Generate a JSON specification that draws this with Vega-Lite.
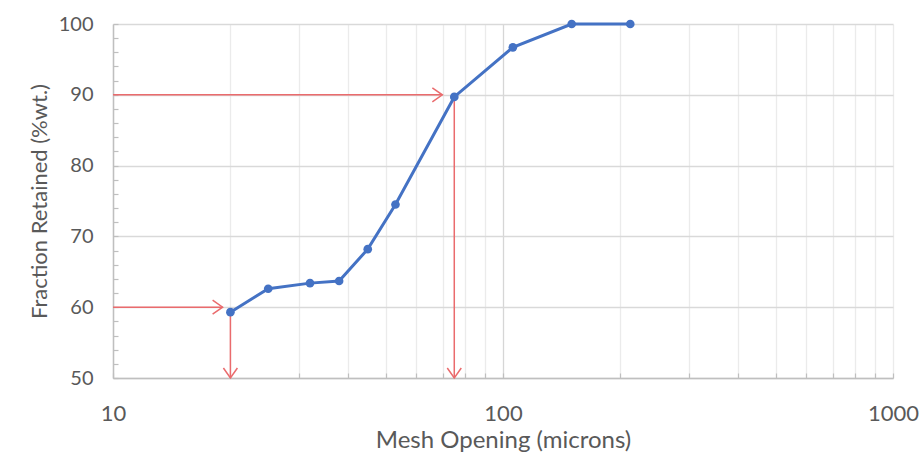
{
  "$schema": "https://vega.github.io/schema/vega-lite/v6.json",
  "width": 780,
  "height": 354,
  "autosize": {"type": "none"},
  "padding": {"left": 113, "top": 24, "right": 30, "bottom": 77},
  "background": "white",
  "config": {
    "view": {"stroke": null},
    "font": "Lato",
    "axis": {
      "domainColor": "#bfbfbf",
      "domainWidth": 1.5,
      "tickColor": "#bfbfbf",
      "tickWidth": 1.2,
      "tickSize": -5,
      "labelColor": "#595959",
      "titleColor": "#595959",
      "titleFontWeight": "normal",
      "labelFont": "Lato",
      "titleFont": "Lato",
      "labelFlush": false,
      "labelOverlap": false
    }
  },
  "datasets": {
    "sieve": [
      {"mesh": 20, "retained": 59.3},
      {"mesh": 25, "retained": 62.6},
      {"mesh": 32, "retained": 63.4},
      {"mesh": 38, "retained": 63.7},
      {"mesh": 45, "retained": 68.2},
      {"mesh": 53, "retained": 74.5},
      {"mesh": 75, "retained": 89.7},
      {"mesh": 106, "retained": 96.7},
      {"mesh": 150, "retained": 100},
      {"mesh": 212, "retained": 100}
    ],
    "guides": [
      {"mesh": 10, "mesh2": 19.1, "retained": 60, "retained2": 60},
      {"mesh": 20, "mesh2": 20, "retained": 59.3, "retained2": 50},
      {"mesh": 10, "mesh2": 69.9, "retained": 90, "retained2": 90},
      {"mesh": 75, "mesh2": 75, "retained": 89.7, "retained2": 50}
    ],
    "rightHeads": [
      {"mesh": 19.1, "retained": 60},
      {"mesh": 69.9, "retained": 90}
    ],
    "downHeads": [
      {"mesh": 20, "retained": 50},
      {"mesh": 75, "retained": 50}
    ]
  },
  "layer": [
    {
      "data": {"name": "guides"},
      "mark": {"type": "rule", "color": "#ea6b6d", "strokeWidth": 1.5},
      "encoding": {
        "x": {
          "field": "mesh",
          "type": "quantitative",
          "scale": {"type": "log", "domain": [10, 1000]},
          "axis": {
            "title": "Mesh Opening (microns)",
            "titleFontSize": 24,
            "titlePadding": 4,
            "labelFontSize": 22,
            "labelPadding": 30,
            "tickCount": 40,
            "values": [10, 20, 30, 40, 50, 60, 70, 80, 90, 100, 200, 300, 400, 500, 600, 700, 800, 900, 1000],
            "labelExpr": "datum.value == 10 || datum.value == 100 || datum.value == 1000 ? format(datum.value, 'd') : ''",
            "grid": true,
            "gridColor": {"condition": {"test": "datum.value == 100", "value": "#d6d6d6"}, "value": "#ebebeb"},
            "gridWidth": 1.3
          }
        },
        "x2": {"field": "mesh2"},
        "y": {
          "field": "retained",
          "type": "quantitative",
          "scale": {"domain": [50, 100], "nice": false, "zero": false},
          "axis": {
            "title": "Fraction Retained (%wt.)",
            "titleFontSize": 22,
            "titlePadding": 7,
            "labelFontSize": 20,
            "labelPadding": 25,
            "tickCount": 60,
            "values": [50, 52, 54, 56, 58, 60, 62, 64, 66, 68, 70, 72, 74, 76, 78, 80, 82, 84, 86, 88, 90, 92, 94, 96, 98, 100],
            "labelExpr": "datum.value % 10 === 0 ? format(datum.value, 'd') : ''",
            "grid": true,
            "gridColor": "#d9d9d9",
            "gridWidth": 1.5,
            "gridOpacity": {"condition": {"test": "datum.value % 10 === 0", "value": 1}, "value": 0}
          }
        },
        "y2": {"field": "retained2"}
      }
    },
    {
      "data": {"name": "rightHeads"},
      "mark": {"type": "point", "shape": "M-1,-0.7L0,0L-1,0.7", "size": 400, "filled": false, "stroke": "#ea6b6d", "strokeWidth": 1.5, "opacity": 1},
      "encoding": {
        "x": {"field": "mesh", "type": "quantitative", "scale": {"type": "log", "domain": [10, 1000]}},
        "y": {"field": "retained", "type": "quantitative", "scale": {"domain": [50, 100], "nice": false, "zero": false}}
      }
    },
    {
      "data": {"name": "downHeads"},
      "mark": {"type": "point", "shape": "M-0.7,-1L0,0L0.7,-1", "size": 400, "filled": false, "stroke": "#ea6b6d", "strokeWidth": 1.5, "opacity": 1},
      "encoding": {
        "x": {"field": "mesh", "type": "quantitative", "scale": {"type": "log", "domain": [10, 1000]}},
        "y": {"field": "retained", "type": "quantitative", "scale": {"domain": [50, 100], "nice": false, "zero": false}}
      }
    },
    {
      "data": {"name": "sieve"},
      "mark": {"type": "line", "color": "#4472c4", "strokeWidth": 3, "point": {"filled": true, "size": 75, "color": "#4472c4", "opacity": 1}},
      "encoding": {
        "x": {"field": "mesh", "type": "quantitative", "scale": {"type": "log", "domain": [10, 1000]}},
        "y": {"field": "retained", "type": "quantitative", "scale": {"domain": [50, 100], "nice": false, "zero": false}}
      }
    }
  ]
}
